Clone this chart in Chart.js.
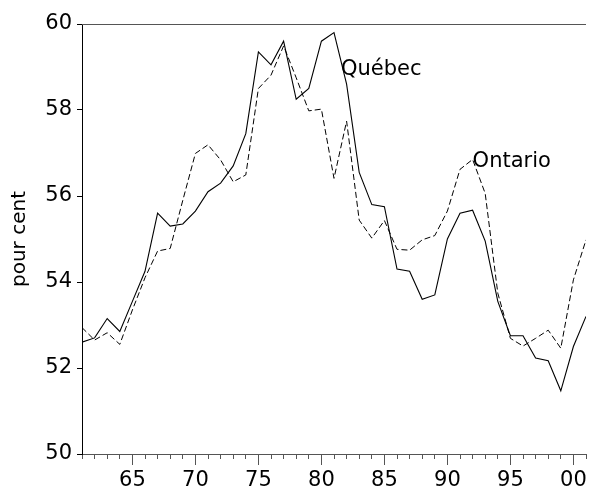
<!DOCTYPE html>
<html>
<head>
<meta charset="utf-8">
<script src="https://cdn.jsdelivr.net/npm/chart.js@4/dist/chart.umd.min.js"></script>
<style>
  html, body { margin: 0; padding: 0; background: #fff; }
  #wrap { width: 589px; height: 488px; }
</style>
</head>
<body>
<div id="wrap"><canvas id="chart" width="589" height="488"></canvas></div>
<script>
// === DATA ===

const years = [
  1961, 1962, 1963, 1964, 1965, 1966, 1967, 1968, 1969, 1970,
  1971, 1972, 1973, 1974, 1975, 1976, 1977, 1978, 1979, 1980,
  1981, 1982, 1983, 1984, 1985, 1986, 1987, 1988, 1989, 1990,
  1991, 1992, 1993, 1994, 1995, 1996, 1997, 1998, 1999, 2000, 2001
];

const quebec = [
  52.6, 52.7, 53.15, 52.85, 53.55, 54.25, 55.6, 55.3, 55.35, 55.65,
  56.1, 56.3, 56.7, 57.45, 59.35, 59.05, 59.6, 58.25, 58.5, 59.6,
  59.8, 58.6, 56.55, 55.8, 55.75, 54.3, 54.25, 53.6, 53.7, 55.0,
  55.6, 55.67, 54.95, 53.55, 52.75, 52.75, 52.23, 52.17, 51.47, 52.5, 53.2
];

const ontario = [
  52.94, 52.65, 52.82, 52.55, 53.35, 54.1, 54.72, 54.78, 55.9, 56.99,
  57.19, 56.84, 56.33, 56.49, 58.5, 58.81, 59.49, 58.75, 57.98, 58.02,
  56.41, 57.74, 55.44, 55.02, 55.43, 54.76, 54.74, 54.98, 55.08, 55.65,
  56.62, 56.85, 56.06, 53.74, 52.69, 52.51, 52.69, 52.88, 52.46, 54.05, 54.98
];

const majorYears = [1965, 1970, 1975, 1980, 1985, 1990, 1995, 2000];
const majorLabels = ["65", "70", "75", "80", "85", "90", "95", "00"];

const yTicks = [50, 52, 54, 56, 58, 60];

// series labels written inside the plot
const seriesNotes = [
  { text: "Québec", year: 1981.55, value: 58.93 },
  { text: "Ontario", year: 1992.0, value: 56.81 }
];

// === HELPERS ===

const FONT = "'DejaVu Sans', 'Liberation Sans', Arial, sans-serif";
const AXIS_GREY = "#555";

function toPoints(values) {
  return years.map((y, i) => ({ x: y, y: values[i] }));
}

// === PLUGINS ===

// longer ticks for the labelled years, plus the top frame line
const framePlugin = {
  id: "frame",
  afterDraw(chart) {
    const ctx = chart.ctx;
    const area = chart.chartArea;
    const xs = chart.scales.x;

    ctx.save();
    ctx.strokeStyle = AXIS_GREY;
    ctx.lineWidth = 1;

    ctx.beginPath();
    ctx.moveTo(area.left, area.top + 0.5);
    ctx.lineTo(area.right, area.top + 0.5);
    ctx.stroke();

    majorYears.forEach(yr => {
      const px = Math.round(xs.getPixelForValue(yr)) + 0.5;
      ctx.beginPath();
      ctx.moveTo(px, area.bottom + 4);
      ctx.lineTo(px, area.bottom + 11);
      ctx.stroke();
    });
    ctx.restore();
  }
};

const notesPlugin = {
  id: "notes",
  afterDatasetsDraw(chart) {
    const ctx = chart.ctx;
    const xs = chart.scales.x;
    const ys = chart.scales.y;

    ctx.save();
    ctx.fillStyle = "#000";
    ctx.font = "21px " + FONT;
    ctx.textAlign = "left";
    ctx.textBaseline = "middle";
    seriesNotes.forEach(n => {
      ctx.fillText(n.text, xs.getPixelForValue(n.year), ys.getPixelForValue(n.value));
    });
    ctx.restore();
  }
};

// === CHART ===

new Chart(document.getElementById("chart"), {
  type: "line",
  data: {
    datasets: [
      {
        label: "Québec",
        data: toPoints(quebec),
        borderColor: "#000",
        borderWidth: 1.1,
        pointRadius: 0,
        tension: 0
      },
      {
        label: "Ontario",
        data: toPoints(ontario),
        borderColor: "#000",
        borderWidth: 1,
        borderDash: [6, 3],
        pointRadius: 0,
        tension: 0
      }
    ]
  },
  options: {
    responsive: false,
    animation: false,
    devicePixelRatio: 1,
    layout: { padding: { top: 24, right: 3, left: 0, bottom: 0 } },
    plugins: {
      legend: { display: false },
      tooltip: { enabled: false }
    },
    scales: {
      x: {
        type: "linear",
        min: 1961,
        max: 2001,
        afterFit(scale) {
          scale.height = 34;
          scale.paddingLeft = 0;
          scale.paddingRight = 0;
        },
        afterBuildTicks(scale) {
          scale.ticks = years.map(v => ({ value: v }));
        },
        ticks: {
          autoSkip: false,
          maxRotation: 0,
          padding: 9,
          color: "#000",
          font: { family: FONT, size: 21 },
          callback(v) {
            const i = majorYears.indexOf(v);
            return i >= 0 ? majorLabels[i] : "";
          }
        },
        grid: {
          drawOnChartArea: false,
          tickLength: 5,
          color: AXIS_GREY
        },
        border: { color: AXIS_GREY, width: 1 }
      },
      y: {
        min: 50,
        max: 60,
        afterFit(scale) {
          scale.width = 82;
          scale.paddingTop = 0;
          scale.paddingBottom = 0;
        },
        afterBuildTicks(scale) {
          scale.ticks = yTicks.map(v => ({ value: v }));
        },
        ticks: {
          padding: 5,
          color: "#000",
          font: { family: FONT, size: 21 }
        },
        grid: {
          drawOnChartArea: false,
          tickLength: 5,
          color: "#000"
        },
        border: { color: "#000", width: 1 },
        title: {
          display: true,
          text: "pour cent",
          color: "#000",
          font: { family: FONT, size: 20 },
          padding: { top: 8, bottom: 0 }
        }
      }
    }
  },
  plugins: [framePlugin, notesPlugin]
});
</script>
</body>
</html>
